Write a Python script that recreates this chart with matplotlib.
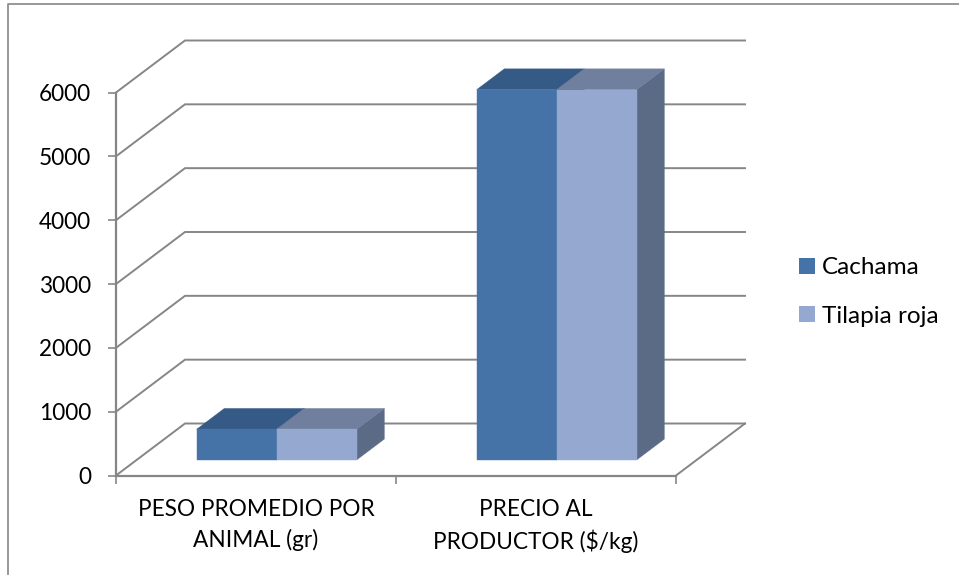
import matplotlib
matplotlib.use('Agg')
import matplotlib.pyplot as plt
from matplotlib.lines import Line2D
from matplotlib.patches import Patch

categories = ['PESO PROMEDIO POR\nANIMAL (gr)', 'PRECIO AL\nPRODUCTOR ($/kg)']
series_names = ['Cachama', 'Tilapia roja']
cachama = [480, 5800]
tilapia = [480, 5800]
yticks = [0, 1000, 2000, 3000, 4000, 5000, 6000]

W, H = 959, 575
GRID = '#868686'
front_colors = ['#4573A7', '#95A9D0']
top_colors = ['#355A85', '#707F9E']
side_color = '#5C6B85'

plt.rcParams['font.family'] = ['Lato', 'DejaVu Sans']
plt.rcParams['font.size'] = 16.3

fig = plt.figure(figsize=(W / 100, H / 100), dpi=100)
# front plane of the fake 3D box, in pixels of the picture
ax = fig.add_axes([116 / W, 1 - 475.5 / H, 560 / W, 383 / H])
ax.set_xlim(0, 2)
ax.set_ylim(0, 6000)
ax.patch.set_alpha(0)

# oblique depth: full depth is 69 px right, 52 px up
DX = 69 / 280
DY = 52 / (383 / 6000)


def proj(x, y, d):
    return x + d * DX, y + d * DY


# walls
for v in yticks:
    x0, y0 = proj(0, v, 0)
    x1, y1 = proj(0, v, 1)
    x2, y2 = proj(2, v, 1)
    ax.plot([x0, x1, x2], [y0, y1, y2], color=GRID, lw=1.4, clip_on=False, zorder=1,
            solid_joinstyle='miter')
x0, y0 = proj(2, 0, 0)
x1, y1 = proj(2, 0, 1)
ax.plot([x0, x1], [y0, y1], color=GRID, lw=1.4, clip_on=False, zorder=1)


def bar3d(xl, xr, val, front, top, side, z):
    d0, d1 = 0.30, 0.70
    f = [proj(xl, 0, d0), proj(xr, 0, d0), proj(xr, val, d0), proj(xl, val, d0)]
    t = [proj(xl, val, d0), proj(xr, val, d0), proj(xr, val, d1), proj(xl, val, d1)]
    s = [proj(xr, 0, d0), proj(xr, 0, d1), proj(xr, val, d1), proj(xr, val, d0)]
    for poly, c in ((s, side), (t, top), (f, front)):
        ax.fill(*zip(*poly), color=c, lw=0.3, clip_on=False, zorder=z)


bar_w = 80 / 280
for i in range(len(categories)):
    gap = (1 - 2 * bar_w) / 2
    bar3d(i + gap, i + gap + bar_w, cachama[i], front_colors[0], top_colors[0], top_colors[0], 3)
    bar3d(i + gap + bar_w, i + gap + 2 * bar_w, tilapia[i], front_colors[1], top_colors[1], side_color, 4)

# axes
for name in ('top', 'right'):
    ax.spines[name].set_visible(False)
for name in ('left', 'bottom'):
    ax.spines[name].set_color(GRID)
    ax.spines[name].set_linewidth(1.6)
    ax.spines[name].set_zorder(2)
ax.set_yticks(yticks)
ax.tick_params(axis='y', length=6, width=1.2, color=GRID, pad=12, labelcolor='black')
ax.set_xticks([0, 1, 2])
ax.set_xticklabels([])
ax.tick_params(axis='x', which='major', length=6, width=1.2, color=GRID)
ax.set_xticks([0.5, 1.5], minor=True)
ax.set_xticklabels(categories, minor=True, linespacing=1.5)
ax.tick_params(axis='x', which='minor', length=0, pad=17, labelcolor='black')

handles = [Patch(facecolor=c, edgecolor='none', lw=0) for c in front_colors]
fig.legend(handles, series_names, loc='center left', bbox_to_anchor=(780 / W, 1 - 292 / H),
           frameon=False, fontsize=17.5, handlelength=0.62, handleheight=0.62, handletextpad=0.29,
           labelspacing=1.13, borderpad=0.3)

# chart frame
fig.add_artist(Line2D([8 / W, 8 / W, 1], [0, 1 - 4 / H, 1 - 4 / H], color='#909090', lw=1.3))

fig.savefig('out.png', dpi=100)
